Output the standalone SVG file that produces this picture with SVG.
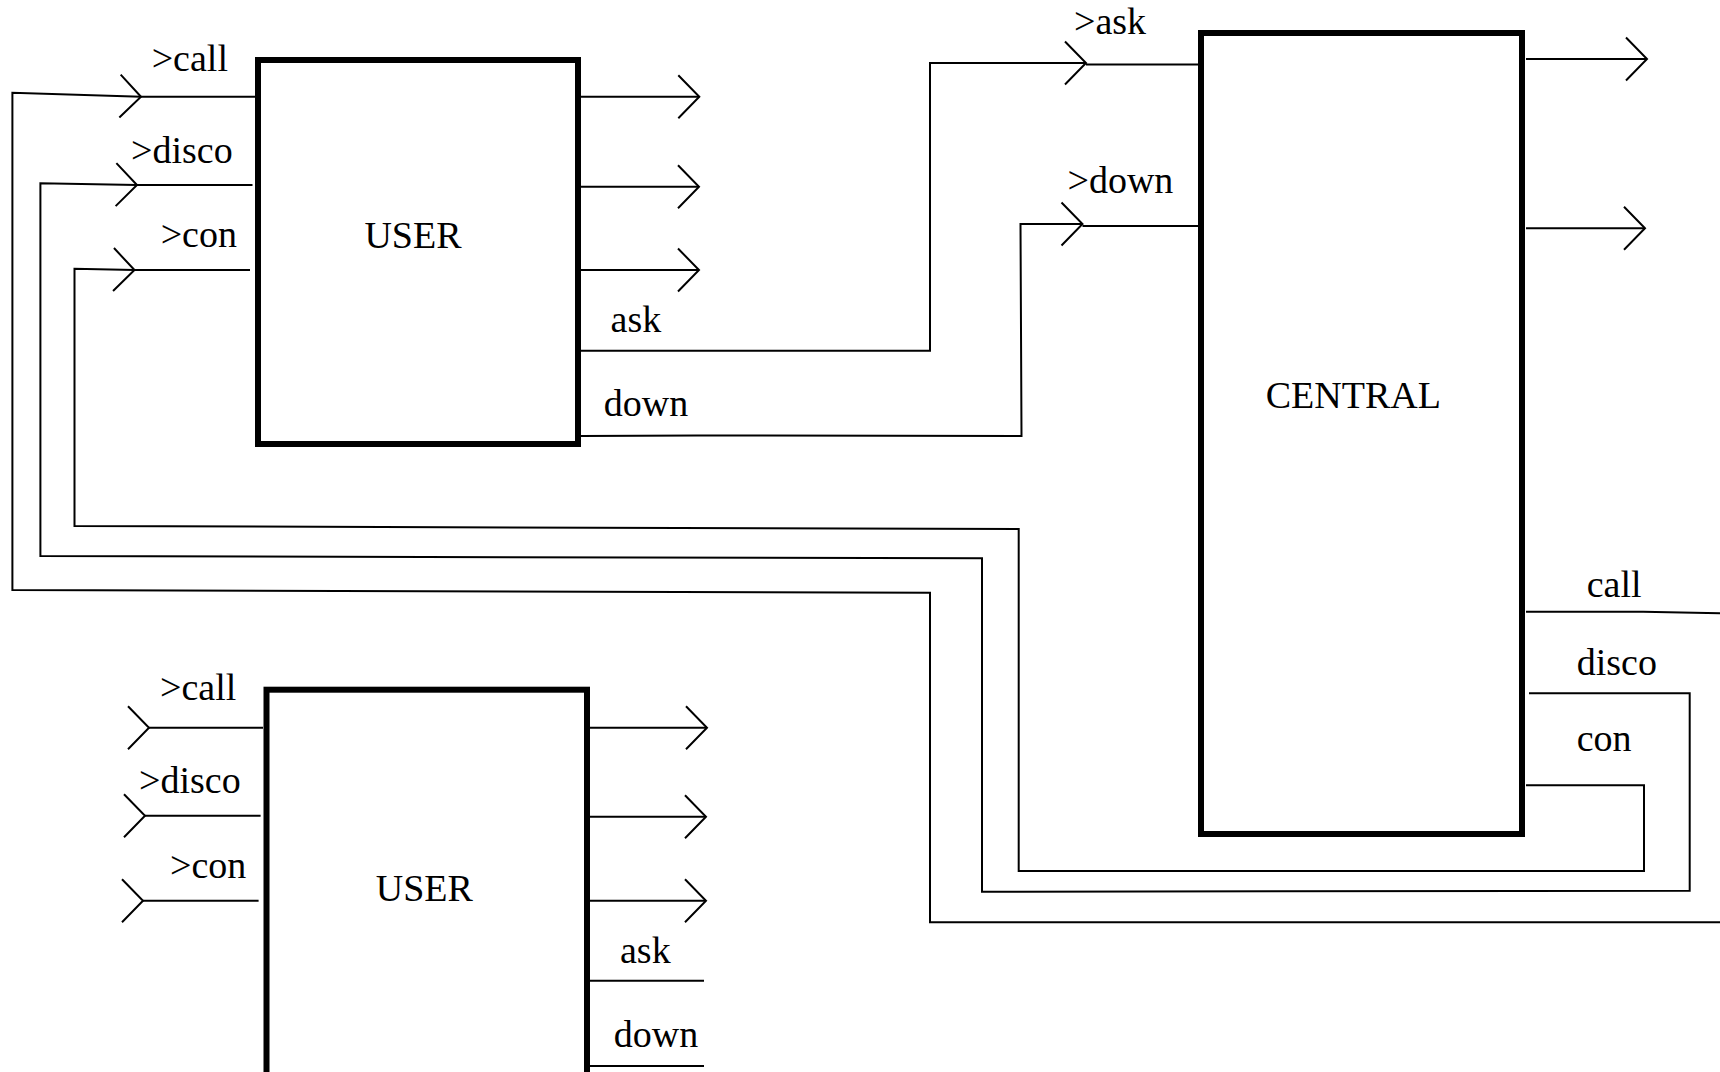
<svg xmlns="http://www.w3.org/2000/svg" width="1720" height="1072" viewBox="0 0 1720 1072">
<style>
  .box { fill: #ffffff; stroke: #000000; stroke-width: 6; }
  .ln { fill: none; stroke: #000000; stroke-width: 2; }
  .name { font-family: "Liberation Serif", "Times New Roman", serif; font-size: 38px; text-anchor: middle; fill: #000000; }
  .lbl { font-family: "Liberation Serif", "Times New Roman", serif; font-size: 38px; fill: #000000; }
  .out { marker-end: url(#chev); }
  .in { marker-start: url(#chev); }
</style>
<defs>
  <marker id="chev" markerUnits="userSpaceOnUse" viewBox="-25 -25 30 50" refX="0" refY="0" markerWidth="30" markerHeight="50" orient="auto" overflow="visible">
    <path d="M-21,-21.5 L0,0 L-21,21.5" fill="none" stroke="#000000" stroke-width="2"/>
  </marker>
</defs>
<rect width="1720" height="1072" fill="#ffffff"/>

<g id="connectors">
  <path id="c-call" class="ln out" d="M1720,922.3 L930,922.3 L930,592.7 L12.4,590 L12.4,92.7 L141,96.7"/>
  <path id="c-disco" class="ln out" d="M1529,693.3 L1689.7,693.3 L1689.7,890.7 L982,891.7 L982,558.3 L40.4,556 L40.4,183.3 L137,185"/>
  <path id="c-con" class="ln out" d="M1526,785.3 L1644,785.3 L1644,871 L1018.7,871 L1018.7,529 L74.5,526 L74.5,268.7 L134.5,270"/>
  <path id="c-ask" class="ln out" d="M581,350.7 L930,350.7 L930,63 L1086,63"/>
  <path id="c-down" class="ln out" d="M581,436 L697,435.5 L1021.5,436 L1020.5,224 L1082.5,224"/>
  <path id="c-call-out" class="ln" d="M1526,611.7 L1643,611.7 L1720,613.3"/>
</g>

<g id="user1">
  <rect class="box" x="258" y="60" width="320" height="384"/>
  <text class="name" x="413" y="248">USER</text>
  <path class="ln" d="M141,96.7 L255,96.7"/>
  <path class="ln" d="M137,185 L252.5,185"/>
  <path class="ln" d="M134.5,270 L250,270"/>
  <path class="ln out" d="M581,96.7 L699.3,96.7"/>
  <path class="ln out" d="M581,186.7 L699,186.7"/>
  <path class="ln out" d="M581,270 L699,270"/>
  <text class="lbl" x="151.7" y="70.7">&gt;call</text>
  <text class="lbl" x="131" y="163">&gt;disco</text>
  <text class="lbl" x="160.7" y="247.3">&gt;con</text>
  <text class="lbl" x="610.6" y="331.7">ask</text>
  <text class="lbl" x="603.8" y="415.5">down</text>
</g>

<g id="central">
  <rect class="box" x="1201" y="33" width="321" height="801"/>
  <text class="name" x="1353.3" y="408.3">CENTRAL</text>
  <path class="ln" d="M1086,64.5 L1198,64.5"/>
  <path class="ln" d="M1082.5,226 L1198,226"/>
  <path class="ln out" d="M1526,59 L1647,59"/>
  <path class="ln out" d="M1526,228.3 L1645,228.3"/>
  <text class="lbl" x="1074" y="34">&gt;ask</text>
  <text class="lbl" x="1067.5" y="193">&gt;down</text>
  <text class="lbl" x="1586.7" y="597">call</text>
  <text class="lbl" x="1576.7" y="675">disco</text>
  <text class="lbl" x="1576.7" y="751">con</text>
</g>

<g id="user2">
  <rect class="box" x="266.5" y="689.7" width="320.5" height="420"/>
  <text class="name" x="424.3" y="901">USER</text>
  <path class="ln in" d="M149,727.7 L263,727.7"/>
  <path class="ln in" d="M145,815.7 L260.6,815.7"/>
  <path class="ln in" d="M143,900.7 L258.6,900.7"/>
  <path class="ln out" d="M590,727.7 L707,727.7"/>
  <path class="ln out" d="M590,816.7 L706,816.7"/>
  <path class="ln out" d="M590,900.7 L706,900.7"/>
  <path class="ln" d="M590,980.7 L704,980.7"/>
  <path class="ln" d="M590,1066 L704,1066"/>
  <text class="lbl" x="160" y="700">&gt;call</text>
  <text class="lbl" x="139" y="793">&gt;disco</text>
  <text class="lbl" x="170" y="878">&gt;con</text>
  <text class="lbl" x="620" y="963">ask</text>
  <text class="lbl" x="613.7" y="1047">down</text>
</g>
</svg>
